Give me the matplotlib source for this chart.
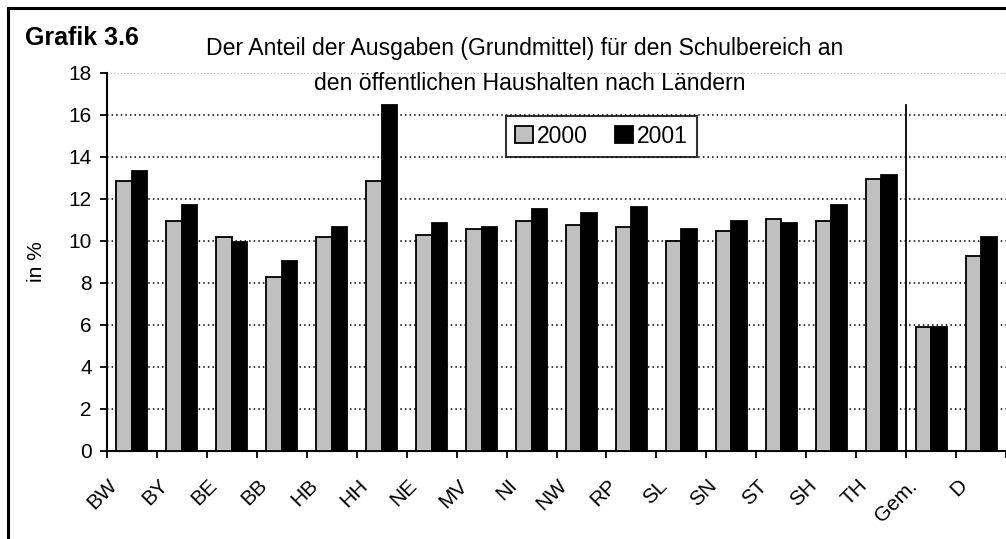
import numpy as np
import matplotlib.pyplot as plt
import matplotlib.transforms as mtransforms
from matplotlib.lines import Line2D

plt.rcParams['font.family'] = ['Liberation Sans', 'DejaVu Sans']

# data
laender = ['BW', 'BY', 'BE', 'BB', 'HB', 'HH', 'NE', 'MV', 'NI', 'NW',
           'RP', 'SL', 'SN', 'ST', 'SH', 'TH', 'Gem.', 'D']
werte_2000 = [12.86, 10.94, 10.17, 8.27, 10.17, 12.86, 10.27, 10.57, 10.94, 10.76,
              10.65, 9.98, 10.46, 11.03, 10.94, 12.95, 5.89, 9.30]
werte_2001 = [13.33, 11.73, 9.94, 9.06, 10.67, 16.5, 10.86, 10.67, 11.52, 11.35,
              11.63, 10.57, 10.95, 10.86, 11.71, 13.14, 5.92, 10.19]
jahre = ['2000', '2001']

fig = plt.figure(figsize=(10.06, 5.39), dpi=100)
ax = fig.add_axes([107/1006, 88/539, 899/1006, 378/539])

x = np.arange(len(laender)) + 0.5
w = 0.31
ax.bar(x - w/2, werte_2000, w, color='#c0c0c0', edgecolor='black', linewidth=1.3,
       label=jahre[0], zorder=3)
ax.bar(x + w/2, werte_2001, w, color='black', edgecolor='black', linewidth=1.3,
       label=jahre[1], zorder=3)

ax.set_xlim(0, 17.98)
ax.set_ylim(0, 18)

# grid
for yv in range(2, 18, 2):
    ax.axhline(yv, color='black', linestyle=(0, (1, 2)), linewidth=1.1, zorder=1)
ax.axhline(18, color='#b0b0b0', linestyle=(0, (1, 2)), linewidth=0.8, zorder=1)

# separator between Laender and Gem./D
ax.plot([16, 16], [0, 16.5], color='black', linewidth=1.3, zorder=4)

for s in ['top', 'right']:
    ax.spines[s].set_visible(False)
ax.spines['left'].set_linewidth(1.5)
ax.spines['bottom'].set_linewidth(1.5)

ax.set_yticks(range(0, 19, 2))
ax.tick_params(axis='y', labelsize=15, length=5, width=1.3, pad=6)
ax.set_xticks(np.arange(0, 19))
ax.set_xticklabels([])
ax.tick_params(axis='x', which='major', length=5, width=1.3)
ax.set_xticks(x, minor=True)
ax.set_xticklabels(laender, minor=True, rotation=45, ha='right',
                   rotation_mode='anchor', fontsize=15)
ax.tick_params(axis='x', which='minor', length=0, pad=18)
offset = mtransforms.ScaledTranslation(-24/100, 0, fig.dpi_scale_trans)
for lab in ax.get_xticklabels(minor=True):
    lab.set_transform(lab.get_transform() + offset)

ax.set_ylabel('in %', fontsize=15, labelpad=16)

leg = ax.legend(loc='lower left', bbox_to_anchor=(0.444, 0.778), ncol=2,
                fontsize=16.5, frameon=True, fancybox=False, borderaxespad=0,
                handlelength=0.75, handleheight=0.75, handletextpad=0.2,
                columnspacing=1.2, borderpad=0.4)
leg.get_frame().set_edgecolor('black')
leg.get_frame().set_linewidth(1.5)

fig.text(25/1006, 1 - 38/539, 'Grafik 3.6', fontsize=18, fontweight='bold',
         va='center', ha='left')
fig.text(525/1006, 1 - 49/539, 'Der Anteil der Ausgaben (Grundmittel) für den Schulbereich an',
         fontsize=16.6, ha='center', va='center')
fig.text(530/1006, 1 - 84/539, 'den öffentlichen Haushalten nach Ländern',
         fontsize=16.6, ha='center', va='center')

# outer frame
fig.add_artist(Line2D([8/1006, 1.0], [1 - 8/539, 1 - 8/539], color='black', linewidth=2.2))
fig.add_artist(Line2D([8/1006, 8/1006], [0, 1 - 8/539], color='black', linewidth=2.2))

fig.savefig('out.png', dpi=100)
